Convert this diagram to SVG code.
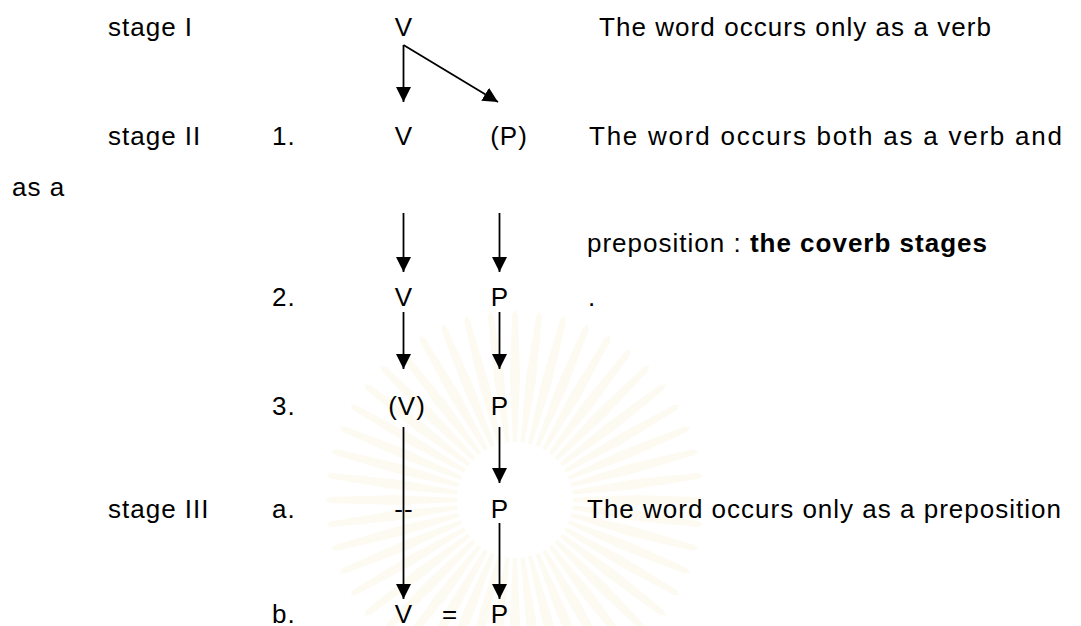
<svg xmlns="http://www.w3.org/2000/svg" xmlns:xlink="http://www.w3.org/1999/xlink" width="1081" height="626" viewBox="0 0 1081 626">
<defs>
<style>
text{font-family:"Liberation Sans",Arial,sans-serif;font-size:26px;fill:#000;letter-spacing:1px}
.m{text-anchor:middle}
.b{font-weight:bold}
.c line{stroke:#000;stroke-width:1.8;marker-end:url(#ah)}
.ray{fill:#fdfaf2}
</style>
<marker id="ah" viewBox="0 0 15 15" refX="15" refY="7.5" markerWidth="15" markerHeight="15" markerUnits="userSpaceOnUse" orient="auto">
<path d="M0,0 L15,7.5 L0,15 Z" fill="#000"/>
</marker>
<path id="r" class="ray" d="M58,-2 L120,-5 L185,-3 L190,0 L185,3 L120,5 L58,2 Z"/>
<g id="r4"><use href="#r"/><use href="#r" transform="rotate(7.5)"/><use href="#r" transform="rotate(15)"/><use href="#r" transform="rotate(22.5)"/></g>
<g id="r12"><use href="#r4"/><use href="#r4" transform="rotate(30)"/><use href="#r4" transform="rotate(60)"/></g>
</defs>
<rect width="1081" height="626" fill="#fff"/>
<g id="watermark" transform="translate(515,500)">
<use href="#r12"/><use href="#r12" transform="rotate(90)"/><use href="#r12" transform="rotate(180)"/><use href="#r12" transform="rotate(270)"/>
</g>
<g id="labels">
<text x="108" y="36">stage I</text>
<text x="108" y="145">stage II</text>
<text x="12" y="196">as a</text>
<text x="108" y="518">stage III</text>
</g>
<g id="numbers">
<text x="272" y="145">1.</text>
<text x="272" y="306">2.</text>
<text x="272" y="415">3.</text>
<text x="272" y="518">a.</text>
<text x="272" y="623">b.</text>
</g>
<g id="n-v1"><text class="m" x="404" y="36">V</text></g>
<g id="n-v2"><text class="m" x="404" y="145">V</text></g>
<g id="n-p2"><text class="m" x="509" y="145">(P)</text></g>
<g id="n-v3"><text class="m" x="404" y="306">V</text></g>
<g id="n-p3"><text class="m" x="500" y="306">P</text></g>
<g id="n-v4"><text class="m" x="407" y="415">(V)</text></g>
<g id="n-p4"><text class="m" x="500" y="415">P</text></g>
<g id="n-dash"><text class="m" x="404" y="518">--</text></g>
<g id="n-p5"><text class="m" x="500" y="518">P</text></g>
<g id="n-v6"><text class="m" x="404" y="623">V</text></g>
<g id="n-eq"><text class="m" x="450" y="623">=</text></g>
<g id="n-p6"><text class="m" x="500" y="623">P</text></g>
<g id="descriptions">
<text x="599" y="36" textLength="393" lengthAdjust="spacing">The word occurs only as a verb</text>
<text x="589" y="145" textLength="474" lengthAdjust="spacing">The word occurs both as a verb and</text>
<text x="587" y="252">preposition : <tspan class="b">the coverb stages</tspan></text>
<text x="588" y="306">.</text>
<text x="587" y="518">The word occurs only as a preposition</text>
</g>
<g id="connectors" class="c">
<line x1="403.5" y1="45" x2="403.5" y2="102"/>
<line x1="403.5" y1="45" x2="498" y2="102"/>
<line x1="403.5" y1="213" x2="403.5" y2="272"/>
<line x1="499.5" y1="213" x2="499.5" y2="272"/>
<line x1="403.5" y1="312" x2="403.5" y2="369"/>
<line x1="499.5" y1="312" x2="499.5" y2="369"/>
<line x1="403.5" y1="427" x2="403.5" y2="599"/>
<line x1="499.5" y1="427" x2="499.5" y2="483"/>
<line x1="499.5" y1="523" x2="499.5" y2="599"/>
</g>
</svg>
